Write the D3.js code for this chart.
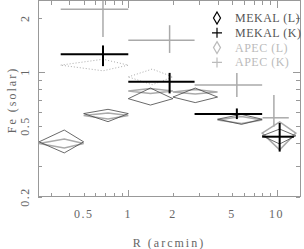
<!DOCTYPE html>
<html>
<head>
<meta charset="utf-8">
<script src="https://cdn.jsdelivr.net/npm/d3@7"></script>
<style>
	body { margin: 0; background: #fff; }
	svg text { font-family: 'Liberation Serif', serif; fill: #666; }
</style>
</head>
<body>
<svg id="chart" width="304" height="249"></svg>
<script>
// Fe abundance vs radius

// L-shell fits, bins in arcmin
var lLo = [0.25, 0.5, 1, 2, 4, 8];
var lHi = [0.5, 1, 2, 4, 8, 13.5];
var lMid = [0.37, 0.73, 1.41, 2.83, 5.8, 10.5];

var mekalL = [0.407, 0.586, 0.71, 0.725, 0.545, 0.44];
var mekalLLo = [0.353, 0.528, 0.654, 0.675, 0.51, 0.396];
var mekalLHi = [0.474, 0.619, 0.814, 0.814, 0.58, 0.48];

var apecL = [0.398, 0.571, 0.783, 0.775, 0.54, 0.456];
var apecLLo = [0.376, 0.546, 0.76, 0.755, 0.515, 0.367];
var apecLHi = [0.422, 0.59, 0.81, 0.80, 0.565, 0.526];

// K-shell fits
var kLo = [0.35, 1, 2.8, 8];
var kHi = [1, 2.8, 8, 13.1];
var kMid = [0.675, 1.9, 5.4, 10.5];

var mekalK = [1.26, 0.883, 0.583, 0.435];
var mekalKLo = [1.08, 0.76, 0.546, 0.359];
var mekalKHi = [1.41, 0.99, 0.626, 0.519];

var apecKLo_x = [0.35, 1, 2.8, 8.05];
var apecKHi_x = [1, 2.8, 8, 12.1];
var apecKMid = [0.675, 1.9, 5.4, 9.6];
var apecK = [2.25, 1.51, 0.846, 0.555];
var apecKLo = [1.57, 1.28, 0.725, 0.494];
var apecKHi = [3, 1.83, 0.987, 0.744];

// dotted (not in legend)
var dotLo = [0.35, 1];
var dotHi = [1, 2];
var dotMid = [0.675, 1.45];
var dotV = [1.094, 0.94];
var dotVLo = [1.017, 0.85];
var dotVHi = [1.18, 1.04];

var xTicks = [0.5, 1, 2, 5, 10];
var yTicks = [0.2, 0.5, 1, 2];

var svg = d3.select('svg#chart');
var pLeft = 38, pRight = 300, pTop = 1, pBottom = 197;

var xScale = d3.scaleLog().domain([0.246, 14.4]).range([pLeft, pRight]);
var yScale = d3.scaleLog().domain([0.2, 2.5]).range([pBottom, pTop]);

var frameColor = '#999';

svg.append('defs').append('clipPath').attr('id', 'clip')
	.append('rect')
	.attr('x', pLeft).attr('y', pTop)
	.attr('width', pRight - pLeft).attr('height', pBottom - pTop);

// frame
svg.append('rect')
	.attr('x', pLeft + 0.5).attr('y', pTop - 0.5)
	.attr('width', pRight - pLeft).attr('height', pBottom - pTop)
	.style('fill', 'none')
	.style('stroke', frameColor);

// minor + major ticks, pointing inward on all four sides
var xAll = [0.3, 0.4, 0.5, 0.6, 0.7, 0.8, 0.9, 1, 2, 3, 4, 5, 6, 7, 8, 9, 10];
var yAll = [0.2, 0.3, 0.4, 0.5, 0.6, 0.7, 0.8, 0.9, 1, 2];
function tickLen(v) {
	return Math.abs(Math.log10(v) - Math.round(Math.log10(v))) < 1e-6 ? 7 : 4;
}

var axisG = svg.append('g').style('stroke', frameColor).style('stroke-width', 1);
xAll.forEach(function (v) {
	var px = Math.round(xScale(v)) + 0.5;
	axisG.append('line').attr('x1', px).attr('x2', px)
		.attr('y1', pBottom).attr('y2', pBottom - tickLen(v));
	axisG.append('line').attr('x1', px).attr('x2', px)
		.attr('y1', pTop).attr('y2', pTop + tickLen(v));
});
yAll.forEach(function (v) {
	var py = Math.round(yScale(v)) + 0.5;
	axisG.append('line').attr('y1', py).attr('y2', py)
		.attr('x1', pLeft).attr('x2', pLeft + tickLen(v));
	axisG.append('line').attr('y1', py).attr('y2', py)
		.attr('x1', pRight).attr('x2', pRight - tickLen(v));
});

// tick labels
svg.selectAll('text.xtick')
	.data(xTicks)
	.enter()
	.append('text')
	.attr('class', 'xtick')
	.attr('x', function (d) { return xScale(d); })
	.attr('y', 218)
	.style('text-anchor', 'middle')
	.style('font-size', '12px')
	.style('letter-spacing', '1.5px')
	.text(function (d) { return d; });

svg.selectAll('text.ytick')
	.data(yTicks)
	.enter()
	.append('text')
	.attr('class', 'ytick')
	.attr('transform', function (d) {
		return 'translate(29,' + yScale(d) + ') rotate(-90)';
	})
	.style('text-anchor', 'middle')
	.style('font-size', '12px')
	.style('letter-spacing', '1.5px')
	.text(function (d) { return d; });

svg.append('text')
	.attr('x', 169)
	.attr('y', 247)
	.style('text-anchor', 'middle')
	.style('font-size', '12px')
	.style('letter-spacing', '2px')
	.text('R (arcmin)');

svg.append('text')
	.attr('transform', 'translate(16,100) rotate(-90)')
	.style('text-anchor', 'middle')
	.style('font-size', '12px')
	.style('letter-spacing', '2px')
	.text('Fe (solar)');

var plot = svg.append('g').attr('clip-path', 'url(#clip)');

function diamond(lo, hi, mid, v, vlo, vhi) {
	return 'M' + xScale(lo) + ',' + yScale(v) +
		'L' + xScale(mid) + ',' + yScale(vhi) +
		'L' + xScale(hi) + ',' + yScale(v) +
		'L' + xScale(mid) + ',' + yScale(vlo) + 'Z';
}

function drawDiamonds(lo, hi, mid, v, vlo, vhi, color, width, dash) {
	plot.append('g')
		.selectAll('path')
		.data(v)
		.enter()
		.append('path')
		.attr('d', function (d, i) {
			return diamond(lo[i], hi[i], mid[i], d, vlo[i], vhi[i]);
		})
		.style('fill', 'none')
		.style('stroke', color)
		.style('stroke-width', width)
		.style('stroke-dasharray', dash);
}

function drawCrosses(lo, hi, mid, v, vlo, vhi, color, width) {
	var g = plot.append('g').style('stroke', color).style('stroke-width', width);
	g.selectAll('line.h')
		.data(v)
		.enter()
		.append('line')
		.attr('class', 'h')
		.attr('x1', function (d, i) { return xScale(lo[i]); })
		.attr('x2', function (d, i) { return xScale(hi[i]); })
		.attr('y1', function (d) { return yScale(d); })
		.attr('y2', function (d) { return yScale(d); });
	g.selectAll('line.v')
		.data(v)
		.enter()
		.append('line')
		.attr('class', 'v')
		.attr('x1', function (d, i) { return xScale(mid[i]); })
		.attr('x2', function (d, i) { return xScale(mid[i]); })
		.attr('y1', function (d, i) { return yScale(vlo[i]); })
		.attr('y2', function (d, i) { return yScale(vhi[i]); });
}

drawDiamonds(dotLo, dotHi, dotMid, dotV, dotVLo, dotVHi, '#aaa', 1, '1,2');
drawDiamonds(lLo, lHi, lMid, apecL, apecLLo, apecLHi, '#aaa', 1.5, null);
drawDiamonds(lLo, lHi, lMid, mekalL, mekalLLo, mekalLHi, '#444', 0.8, null);
drawCrosses(apecKLo_x, apecKHi_x, apecKMid, apecK, apecKLo, apecKHi, '#aaa', 1.5);
drawCrosses(kLo, kHi, kMid, mekalK, mekalKLo, mekalKHi, '#000', 2);

// legend
var legend = [
	{ label: 'MEKAL (L)', sym: 'diamond', color: '#000', text: '#555' },
	{ label: 'MEKAL (K)', sym: 'plus', color: '#000', text: '#555' },
	{ label: 'APEC (L)', sym: 'diamond', color: '#bbb', text: '#bbb' },
	{ label: 'APEC (K)', sym: 'plus', color: '#bbb', text: '#bbb' }
];
var lg = svg.selectAll('g.legend')
	.data(legend)
	.enter()
	.append('g')
	.attr('class', 'legend')
	.attr('transform', function (d, i) {
		return 'translate(217,' + (18 + i * 14.8) + ')';
	});
lg.append('path')
	.attr('d', function (d) {
		return d.sym === 'diamond' ? 'M0,-6L3.5,0L0,6L-3.5,0Z' : 'M-5,0H5M0,-5V5';
	})
	.style('fill', 'none')
	.style('stroke', function (d) { return d.color; })
	.style('stroke-width', 1.2);
lg.append('text')
	.attr('x', 18)
	.attr('y', 4)
	.style('font-size', '12px')
	.style('letter-spacing', '0.5px')
	.style('fill', function (d) { return d.text; })
	.text(function (d) { return d.label; });
</script>
</body>
</html>
